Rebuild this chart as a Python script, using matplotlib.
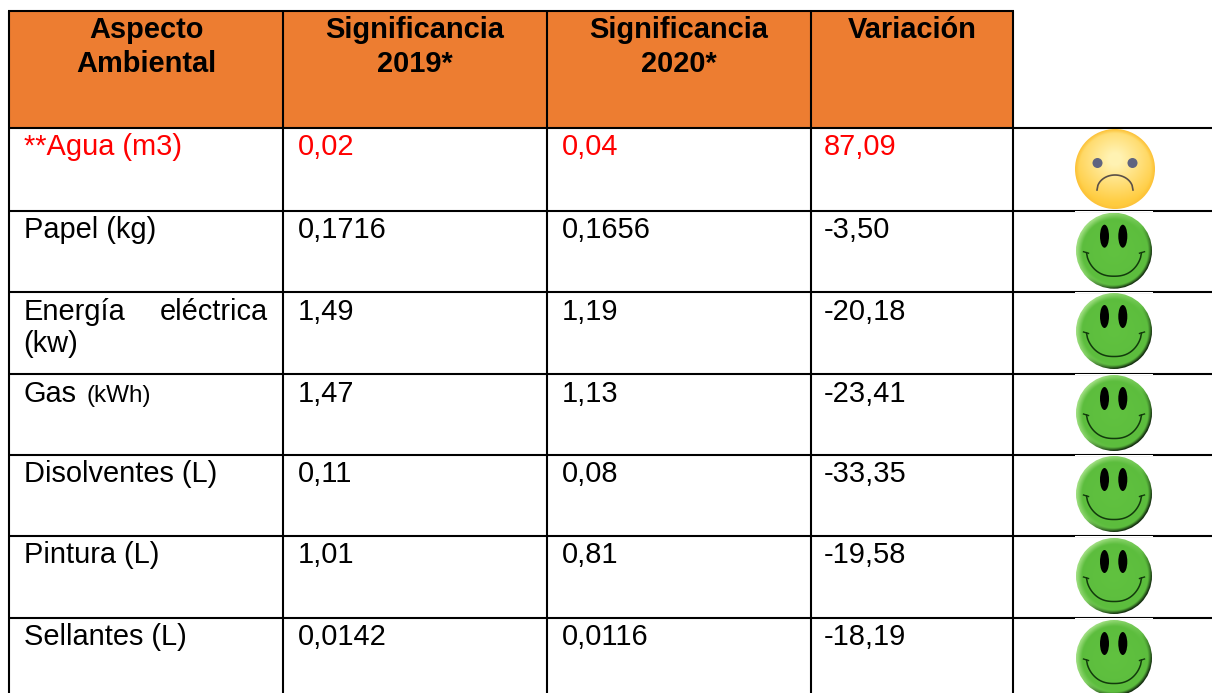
import numpy as np
import matplotlib
matplotlib.use("Agg")
import matplotlib.pyplot as plt
from matplotlib.patches import Rectangle, Circle, Ellipse

headers = [["Aspecto", "Ambiental"], ["Significancia", "2019*"], ["Significancia", "2020*"], ["Variación"]]
aspects = ["**Agua (m3)", "Papel (kg)", None, None, "Disolventes (L)", "Pintura (L)", "Sellantes (L)"]
sig_2019 = ["0,02", "0,1716", "1,49", "1,47", "0,11", "1,01", "0,0142"]
sig_2020 = ["0,04", "0,1656", "1,19", "1,13", "0,08", "0,81", "0,0116"]
variation = ["87,09", "-3,50", "-20,18", "-23,41", "-33,35", "-19,58", "-18,19"]
moods = ["sad", "happy", "happy", "happy", "happy", "happy", "happy"]

FONT = "Liberation Sans"
FS = 20.9
ORANGE = "#ed7d31"
RED = "#ff0000"
col_x = [9, 283, 547, 810.5, 1013]
row_y = [127.5, 210.5, 292, 374, 455, 535.5, 617.5, 695]
top = 11

fig = plt.figure(figsize=(12.12, 6.93), dpi=100, facecolor="white")
ax = fig.add_axes([0, 0, 1, 1])
ax.set_xlim(0, 1212)
ax.set_ylim(693, 0)
ax.axis("off")
ax.set_autoscale_on(False)


def txt(x, y, s, color="black", size=FS, weight="normal", ha="left"):
    ax.text(x, y, s, color=color, fontsize=size, fontweight=weight, ha=ha,
            va="baseline", family=FONT, zorder=5)


ax.add_patch(Rectangle((col_x[0], top), col_x[4] - col_x[0], row_y[0] - top,
                       facecolor=ORANGE, edgecolor="none", zorder=1))

# grid lines
LW = 1.5
kw = dict(color="black", lw=LW, solid_capstyle="butt", zorder=2)
ax.plot([col_x[0] - 1, col_x[4] + 1], [top, top], **kw)
for y in row_y[:-1]:
    ax.plot([col_x[0] - 1, 1212], [y, y], **kw)
for x in col_x:
    ax.plot([x, x], [top, 693], **kw)

# header
for j, lines in enumerate(headers):
    cx = (col_x[j] + col_x[j + 1]) / 2
    for k, line in enumerate(lines):
        txt(cx, 38.5 + 34 * k, line, weight="bold", ha="center")

# body
BASE = 27.5
cols = [298, 562, 824]
for i in range(7):
    b = row_y[i] + BASE
    color = RED if i == 0 else "black"
    if aspects[i] is not None:
        txt(24, b, aspects[i], color=color)
    for x, vals in zip(cols, [sig_2019, sig_2020, variation]):
        txt(x, b, vals[i], color=color)
txt(24, 320, "Energía")
txt(268, 320, "eléctrica", ha="right")
txt(23.5, 352, "(kw)")
txt(23.5, 402, "Gas")
txt(86.5, 402, "(kWh)", size=17.5)


def shade(cx, cy, r, fn, zorder=3):
    n = int(2 * r) * 3
    u = np.linspace(-1, 1, n)
    xx, yy = np.meshgrid(u, u)
    img = fn(xx, yy)
    im = ax.imshow(img, extent=(cx - r, cx + r, cy + r, cy - r), origin="upper",
                   aspect="auto", zorder=zorder, interpolation="bilinear")
    im.set_clip_path(Circle((cx, cy), r, transform=ax.transData))


def mix(a, b, t):
    t = np.clip(t, 0, 1)[..., None]
    return np.array(a) * (1 - t) + np.array(b) * t


def green_fn(xx, yy):
    rr = np.hypot(xx, yy)
    base = mix((0.36, 0.74, 0.24), (0.38, 0.76, 0.25), 1 - rr)
    light = np.clip((0.6 - xx - yy * 0.6) / 1.6, 0, 1) * np.clip((rr - 0.84) / 0.14, 0, 1)
    out = mix(base, (0.62, 0.87, 0.50), light)
    dark = np.clip((xx + yy * 1.1) / 1.3, 0, 1) * np.clip((rr - 0.90) / 0.10, 0, 1)
    return mix(out, (0.08, 0.18, 0.06), dark * 1.2)


def yellow_fn(xx, yy):
    rr = np.hypot(xx * 0.95, yy + 0.25)
    out = mix((1.0, 0.95, 0.70), (1.0, 0.80, 0.25), (rr - 0.15) / 0.95)
    return mix(out, (0.99, 0.76, 0.22), np.clip((np.hypot(xx, yy) - 0.9) / 0.1, 0, 1))


def happy(cx, cy, line_above):
    ax.add_patch(Rectangle((1075, line_above), 78, 1.3, facecolor="white", edgecolor="none", zorder=2.5))
    shade(cx, cy, 38, green_fn)
    for dx in (-9.5, 8.8):
        ax.add_patch(Ellipse((cx + dx, cy - 14.5), 9, 23, facecolor="black", edgecolor="none", zorder=4))
    t = np.linspace(-1, 1, 60)
    ax.plot(cx + 27.5 * t, cy + 2 + 23.5 * np.abs(1 - np.abs(t) ** 2.4) ** 0.62, color="#123a0c", lw=1.1, zorder=4)
    for s in (-1, 1):
        ax.plot([cx + s * 30.5, cx + s * 25.5], [cy + 1, cy + 2.5], color="#123a0c", lw=1.0, zorder=4)


def sad(cx, cy):
    shade(cx, cy, 40, yellow_fn)
    for dx in (-17.5, 17.5):
        ax.add_patch(Circle((cx + dx, cy - 6), 5, facecolor="#5f6480", edgecolor="none", zorder=4))
    t = np.linspace(-1, 1, 40)
    ax.plot(cx + 18 * t, cy + 21 - 15 * np.sqrt(1 - t ** 2), color="#5a5048", lw=1.2, zorder=4)


centers = [169, 250.7, 331, 413, 494, 576, 658]
for i, (m, c) in enumerate(zip(moods, centers)):
    if m == "sad":
        sad(1115, c)
    else:
        happy(1114, c, row_y[i])

fig.savefig("out.png", dpi=100, facecolor="white")
